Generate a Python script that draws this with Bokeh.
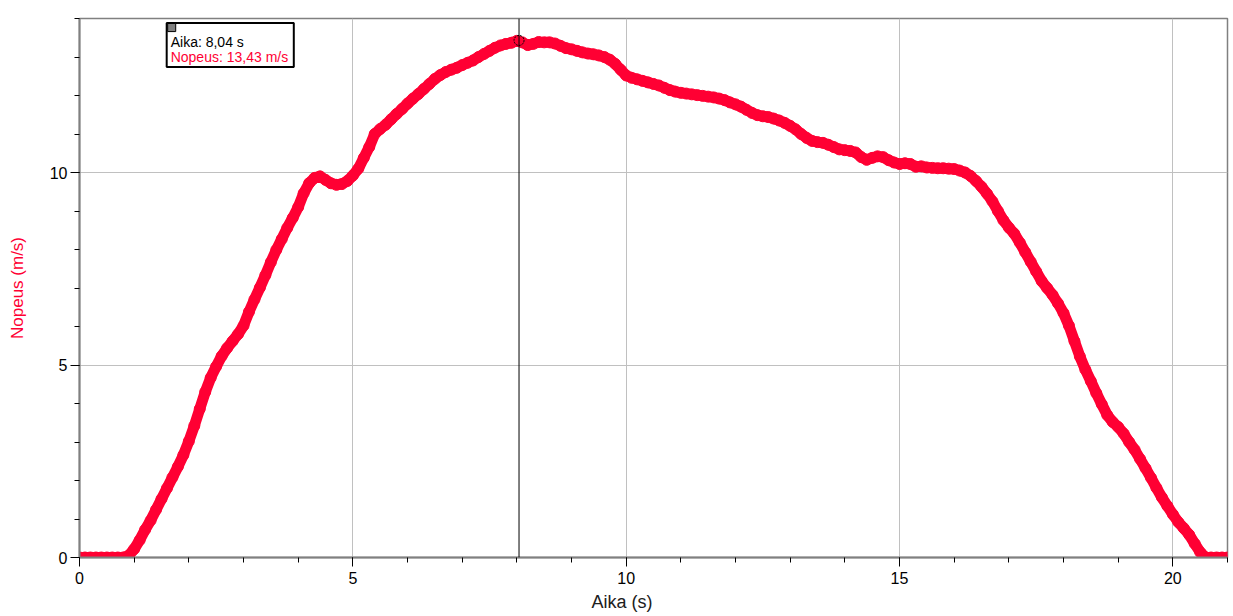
import math
from bokeh.plotting import figure
from bokeh.models import Range1d, SingleIntervalTicker, Span, Label, BoxAnnotation, Title
from bokeh.embed import file_html
from bokeh.resources import INLINE

# ---- data ----
time_s = [round(i * 0.1, 1) for i in range(211)]
speed_ms = [
    0, 0, 0, 0, 0, 0, 0, 0, 0, 0.05,
    0.22, 0.45, 0.72, 0.96, 1.24, 1.52, 1.80, 2.08, 2.36, 2.66,
    3.02, 3.42, 3.86, 4.30, 4.67, 4.96, 5.23, 5.44, 5.62, 5.80,
    6.02, 6.38, 6.70, 7.01, 7.33, 7.67, 7.99, 8.27, 8.56, 8.82,
    9.10, 9.46, 9.72, 9.86, 9.90, 9.81, 9.72, 9.68, 9.70, 9.78,
    9.92, 10.10, 10.38, 10.66, 11.00, 11.13, 11.24, 11.38, 11.52, 11.65,
    11.79, 11.92, 12.04, 12.17, 12.30, 12.43, 12.53, 12.61, 12.67, 12.72,
    12.79, 12.85, 12.91, 13.00, 13.08, 13.16, 13.24, 13.30, 13.34, 13.37,
    13.42, 13.38, 13.31, 13.34, 13.39, 13.38, 13.38, 13.35, 13.29, 13.23,
    13.20, 13.16, 13.12, 13.09, 13.07, 13.04, 13.00, 12.93, 12.82, 12.67,
    12.52, 12.46, 12.42, 12.38, 12.34, 12.30, 12.26, 12.20, 12.14, 12.10,
    12.07, 12.05, 12.03, 12.01, 11.99, 11.97, 11.95, 11.92, 11.88, 11.82,
    11.77, 11.71, 11.63, 11.55, 11.49, 11.46, 11.44, 11.40, 11.35, 11.29,
    11.21, 11.12, 11.00, 10.90, 10.82, 10.79, 10.77, 10.72, 10.66, 10.60,
    10.58, 10.56, 10.52, 10.40, 10.33, 10.38, 10.42, 10.40, 10.32, 10.26,
    10.22, 10.24, 10.22, 10.15, 10.16, 10.13, 10.12, 10.11, 10.11, 10.10,
    10.09, 10.05, 10.00, 9.91, 9.78, 9.63, 9.45, 9.25, 9.00, 8.76,
    8.57, 8.41, 8.18, 7.93, 7.68, 7.43, 7.18, 7.00, 6.82, 6.60,
    6.35, 6.02, 5.62, 5.22, 4.88, 4.58, 4.27, 3.98, 3.70, 3.52,
    3.39, 3.22, 3.00, 2.80, 2.56, 2.32, 2.07, 1.81, 1.56, 1.34,
    1.12, 0.92, 0.76, 0.59, 0.36, 0.14, 0, 0, 0, 0,
    0,
]
cursor_time = [8.04]
cursor_speed = [13.43]
x_label = "Aika (s)"
y_label = "Nopeus (m/s)"

RED = "#ff0033"
FONT = "Liberation Sans"

p = figure(
    width=1233, height=616,
    x_range=Range1d(0, 21), y_range=Range1d(0, 14),
    output_backend="svg", toolbar_location=None,
    min_border_left=79, min_border_top=18, min_border_right=6, min_border_bottom=59,
    background_fill_color="white", border_fill_color="white",
)

ticker = SingleIntervalTicker(interval=5, num_minor_ticks=5)
for ax in (p.xaxis[0], p.yaxis[0]):
    ax.ticker = ticker
    ax.axis_line_color = "#808080"
    ax.axis_line_width = 2
    ax.major_tick_line_color = "black"
    ax.minor_tick_line_color = "black"
    ax.major_tick_out = 9
    ax.major_tick_in = 0
    ax.minor_tick_out = 5
    ax.minor_tick_in = 0
    ax.major_label_text_font = FONT
    ax.major_label_text_font_size = "16px"
    ax.major_label_text_color = "black"
p.xaxis.major_label_standoff = 5
p.yaxis.major_label_standoff = 3

p.yaxis.axis_label = y_label
p.yaxis.axis_label_standoff = 20
p.yaxis.axis_label_text_font = FONT
p.yaxis.axis_label_text_font_size = "17px"
p.yaxis.axis_label_text_font_style = "normal"
p.yaxis.axis_label_text_color = RED

p.xgrid.ticker = ticker
p.ygrid.ticker = ticker
p.xgrid.grid_line_color = "#c0c0c0"
p.ygrid.grid_line_color = "#c0c0c0"
p.outline_line_color = "#808080"
p.outline_line_width = 1.5

p.line(time_s, speed_ms, line_color=RED, line_width=11, line_join="round", line_cap="round")
p.scatter(time_s, speed_ms, marker="circle", size=11, fill_color=None, line_color=RED, line_width=1)

p.scatter(cursor_time, cursor_speed, marker="circle", size=10, fill_color=None,
          line_color="black", line_width=1, line_dash="2 1")
p.add_layout(Span(location=cursor_time[0], dimension="height", line_color="black", line_width=1))

# tooltip box
p.add_layout(BoxAnnotation(left=1.595, right=3.92, top=13.88, bottom=12.74,
                           fill_color="white", fill_alpha=1.0,
                           line_color="black", line_width=2, line_alpha=1.0))
p.add_layout(BoxAnnotation(left=1.613, right=1.76, top=13.87, bottom=13.66,
                           fill_color="#808080", fill_alpha=1.0,
                           line_color="black", line_width=1, line_alpha=1.0))
t_txt = "Aika: " + f"{cursor_time[0]:.2f}".replace(".", ",") + " s"
v_txt = "Nopeus: " + f"{cursor_speed[0]:.2f}".replace(".", ",") + " m/s"
p.add_layout(Label(x=1.668, y=13.40, text=t_txt, text_font=FONT, text_font_size="14px",
                   text_color="black", text_baseline="middle", text_align="left"))
p.add_layout(Label(x=1.668, y=12.99, text=v_txt, text_font=FONT, text_font_size="14px",
                   text_color=RED, text_baseline="middle", text_align="left"))

# x axis title, placed like the reference (left of centre)
xt = Title(text=x_label, align="left", offset=512, standoff=6, vertical_align="bottom",
           text_font=FONT, text_font_size="18px", text_font_style="normal", text_color="#202020")
p.add_layout(xt, "below")

open("out.html", "w").write(file_html(p, INLINE))
